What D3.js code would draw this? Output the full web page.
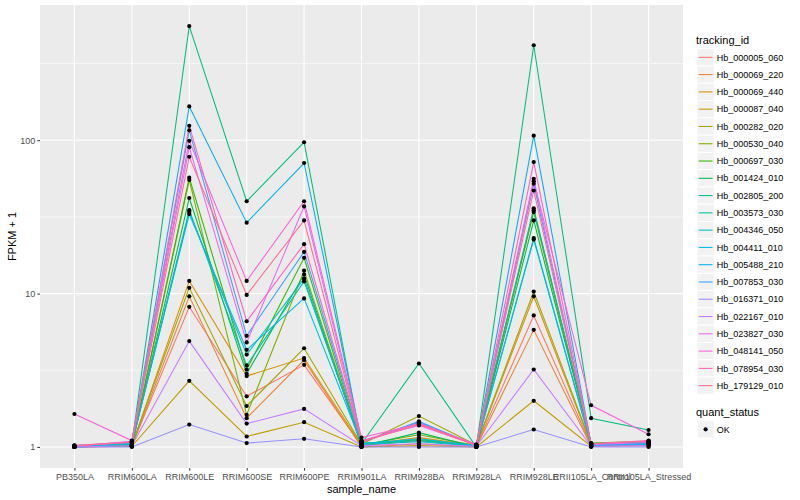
<!DOCTYPE html>
<html>
<head>
<meta charset="utf-8">
<script src="https://d3js.org/d3.v7.min.js"></script>
<style>
  body { margin: 0; background: #fff; }
  text { font-family: "Liberation Sans", Arial, sans-serif; }
</style>
</head>
<body>
<div id="chart"></div>
<script>
  // samples on the x axis
  var samples = ["PB350LA", "RRIM600LA", "RRIM600LE", "RRIM600SE", "RRIM600PE", "RRIM901LA",
                 "RRIM928BA", "RRIM928LA", "RRIM928LE", "RRII105LA_Control", "RRII105LA_Stressed"];

  var trackingIds = ["Hb_000005_060", "Hb_000069_220", "Hb_000069_440", "Hb_000087_040", "Hb_000282_020",
                     "Hb_000530_040", "Hb_000697_030", "Hb_001424_010", "Hb_002805_200", "Hb_003573_030",
                     "Hb_004346_050", "Hb_004411_010", "Hb_005488_210", "Hb_007853_030", "Hb_016371_010",
                     "Hb_022167_010", "Hb_023827_030", "Hb_048141_050", "Hb_078954_030", "Hb_179129_010"];

  // FPKM + 1, one row per tracking_id, one column per sample
  var fpkm = [
    [1.00, 1.02,   8.2,  2.14,  3.43, 1.02, 1.10, 1.01,   7.2, 1.02, 1.05],
    [1.00, 1.01,   9.6,  1.54,  3.68, 1.00, 1.05, 1.00,   5.8, 1.01, 1.03],
    [1.01, 1.02,  12.1,  2.90,  3.80, 1.03, 1.15, 1.02,   9.6, 1.03, 1.06],
    [1.00, 1.01,   2.7,  1.17,  1.45, 1.00, 1.02, 1.00,   2.0, 1.01, 1.02],
    [1.02, 1.03,  10.9,  1.85,  4.40, 1.04, 1.59, 1.03,  10.3, 1.05, 1.08],
    [1.01, 1.02,  55,    1.62, 14.1,  1.03, 1.20, 1.02,  34,   1.04, 1.07],
    [1.00, 1.03,  57,    3.20, 17.1,  1.02, 1.12, 1.01,  35,   1.06, 1.09],
    [1.00, 1.02,  42,    3.00, 13.3,  1.01, 1.24, 1.00,  30,   1.05, 1.06],
    [1.00, 1.04, 555,   40,    97,    1.05, 3.50, 1.00, 416,   1.54, 1.29],
    [1.01, 1.05,  35,    3.40, 12.0,  1.06, 1.10, 1.02,  36,   1.05, 1.08],
    [1.00, 1.04,  34,    4.00, 12.5,  1.04, 1.08, 1.01,  23,   1.03, 1.05],
    [1.00, 1.06,  33,    4.30,  9.3,  1.05, 1.13, 1.02,  22.5, 1.02, 1.04],
    [1.02, 1.07, 166,   29,    71,    1.08, 1.45, 1.03, 107,   1.04, 1.06],
    [1.01, 1.08, 116,    5.30, 18.7,  1.07, 1.47, 1.02,  52,   1.03, 1.05],
    [1.00, 1.00,   1.4,  1.06,  1.13, 1.00, 1.00, 1.00,   1.3, 1.00, 1.00],
    [1.00, 1.02,   4.9,  1.42,  1.77, 1.02, 1.05, 1.01,   3.2, 1.01, 1.02],
    [1.01, 1.09,  90,    4.80, 37,    1.10, 1.38, 1.03,  56,   1.04, 1.07],
    [1.64, 1.10,  99,   12.1,  40,    1.15, 1.41, 1.04,  54,   1.87, 1.21],
    [1.02, 1.08, 124,    6.60, 21,    1.09, 1.43, 1.03,  72,   1.05, 1.10],
    [1.02, 1.07,  78,    9.80, 30,    1.08, 1.40, 1.02,  47,   1.05, 1.09]
  ];

  var yBreaks = [1, 10, 100];
  var yMinorBreaks = [3.1623, 31.623, 316.23];
  var quantStatus = ["OK"];

  // ggplot hue palette, 20 levels
  var palette = ["#F8766D", "#EA8331", "#D89000", "#C09B00", "#A3A500", "#7CAE00", "#39B600", "#00BB4E",
                 "#00BF7D", "#00C1A3", "#00BFC4", "#00BAE0", "#00B0F6", "#35A2FF", "#9590FF", "#C77CFF",
                 "#E76BF3", "#FA62DB", "#FF62BC", "#FF6C91"];

  var width = 800;
  var height = 500;
  var panel = {left: 40, right: 683, top: 5, bottom: 468};

  var svg = d3.select("#chart")
    .append("svg")
    .attr("width", width)
    .attr("height", height);

  // scales
  var x = d3.scalePoint()
    .domain(samples)
    .range([panel.left, panel.right])
    .padding(0.6);

  var allVals = d3.merge(fpkm);
  var lo = Math.log10(d3.min(allVals));
  var hi = Math.log10(d3.max(allVals));
  var pad = (hi - lo) * 0.05;
  var y = d3.scaleLog()
    .domain([Math.pow(10, lo - pad), Math.pow(10, hi + pad)])
    .range([panel.bottom, panel.top]);

  var color = d3.scaleOrdinal().domain(trackingIds).range(palette);

  // panel background + grid
  svg.append("rect")
    .attr("x", panel.left)
    .attr("y", panel.top)
    .attr("width", panel.right - panel.left)
    .attr("height", panel.bottom - panel.top)
    .attr("fill", "#EBEBEB");

  svg.selectAll("line.minor")
    .data(yMinorBreaks)
    .enter()
    .append("line")
    .attr("class", "minor")
    .attr("x1", panel.left)
    .attr("x2", panel.right)
    .attr("y1", function(d){ return y(d); })
    .attr("y2", function(d){ return y(d); })
    .attr("stroke", "#fff")
    .attr("stroke-width", 0.55);

  svg.selectAll("line.majorY")
    .data(yBreaks)
    .enter()
    .append("line")
    .attr("class", "majorY")
    .attr("x1", panel.left)
    .attr("x2", panel.right)
    .attr("y1", function(d){ return y(d); })
    .attr("y2", function(d){ return y(d); })
    .attr("stroke", "#fff")
    .attr("stroke-width", 1.1);

  svg.selectAll("line.majorX")
    .data(samples)
    .enter()
    .append("line")
    .attr("class", "majorX")
    .attr("x1", function(d){ return x(d); })
    .attr("x2", function(d){ return x(d); })
    .attr("y1", panel.top)
    .attr("y2", panel.bottom)
    .attr("stroke", "#fff")
    .attr("stroke-width", 1.1);

  // axes
  var yAxis = d3.axisLeft(y)
    .tickValues(yBreaks)
    .tickFormat(d3.format("d"))
    .tickSize(2.7)
    .tickPadding(2);

  var xAxis = d3.axisBottom(x)
    .tickSize(2.7)
    .tickPadding(3);

  var gy = svg.append("g")
    .attr("transform", "translate(" + panel.left + ",0)")
    .call(yAxis);

  var gx = svg.append("g")
    .attr("transform", "translate(0," + panel.bottom + ")")
    .call(xAxis);

  [gx, gy].forEach(function(g){
    g.select(".domain").remove();
    g.selectAll(".tick line").attr("stroke", "#333333").attr("stroke-width", 1);
    g.selectAll(".tick text")
      .attr("fill", "#4D4D4D")
      .style("font-size", "9px")
      .style("font-family", "'Liberation Sans', Arial, sans-serif");
  });

  // lines
  var line = d3.line()
    .x(function(d, i){ return x(samples[i]); })
    .y(function(d){ return y(d); });

  svg.selectAll("path.series")
    .data(fpkm)
    .enter()
    .append("path")
    .attr("class", "series")
    .attr("d", line)
    .attr("fill", "none")
    .attr("stroke", function(d, i){ return color(trackingIds[i]); })
    .attr("stroke-width", 1.07);

  // points
  var pts = [];
  fpkm.forEach(function(row, i){
    row.forEach(function(v, j){ pts.push({s: samples[j], v: v}); });
  });

  svg.selectAll("circle.pt")
    .data(pts)
    .enter()
    .append("circle")
    .attr("class", "pt")
    .attr("cx", function(d){ return x(d.s); })
    .attr("cy", function(d){ return y(d.v); })
    .attr("r", 2.1)
    .attr("fill", "#000");

  // axis titles
  svg.append("text")
    .attr("x", (panel.left + panel.right) / 2)
    .attr("y", 493)
    .attr("text-anchor", "middle")
    .style("font-size", "11px")
    .text("sample_name");

  svg.append("text")
    .attr("transform", "translate(16," + ((panel.top + panel.bottom) / 2) + ") rotate(-90)")
    .attr("text-anchor", "middle")
    .style("font-size", "11px")
    .text("FPKM + 1");

  // legend: tracking_id
  var keySize = 17.28;
  var legX = 697;
  var legend = svg.append("g");

  legend.append("text")
    .attr("x", 696)
    .attr("y", 44)
    .style("font-size", "11px")
    .text("tracking_id");

  var rows = legend.selectAll("g.key")
    .data(trackingIds)
    .enter()
    .append("g")
    .attr("class", "key")
    .attr("transform", function(d, i){ return "translate(" + legX + "," + (48.7 + i * keySize) + ")"; });

  rows.append("rect")
    .attr("width", keySize)
    .attr("height", keySize)
    .attr("fill", "#F2F2F2")
    .attr("stroke", "#fff")
    .attr("stroke-width", 1);

  rows.append("line")
    .attr("x1", 1.7)
    .attr("x2", keySize - 1.7)
    .attr("y1", keySize / 2)
    .attr("y2", keySize / 2)
    .attr("stroke", function(d){ return color(d); })
    .attr("stroke-width", 1.07);

  rows.append("text")
    .attr("x", keySize + 2.5)
    .attr("y", keySize / 2 + 3.2)
    .style("font-size", "9px")
    .text(function(d){ return d; });

  // legend: quant_status
  legend.append("text")
    .attr("x", 696)
    .attr("y", 416)
    .style("font-size", "11px")
    .text("quant_status");

  var qrows = legend.selectAll("g.qkey")
    .data(quantStatus)
    .enter()
    .append("g")
    .attr("class", "qkey")
    .attr("transform", function(d, i){ return "translate(" + legX + "," + (420.7 + i * keySize) + ")"; });

  qrows.append("rect")
    .attr("width", keySize)
    .attr("height", keySize)
    .attr("fill", "#F2F2F2")
    .attr("stroke", "#fff")
    .attr("stroke-width", 1);

  qrows.append("circle")
    .attr("cx", keySize / 2)
    .attr("cy", keySize / 2)
    .attr("r", 2.1)
    .attr("fill", "#000");

  qrows.append("text")
    .attr("x", keySize + 2.5)
    .attr("y", keySize / 2 + 3.2)
    .style("font-size", "9px")
    .text(function(d){ return d; });
</script>
</body>
</html>
